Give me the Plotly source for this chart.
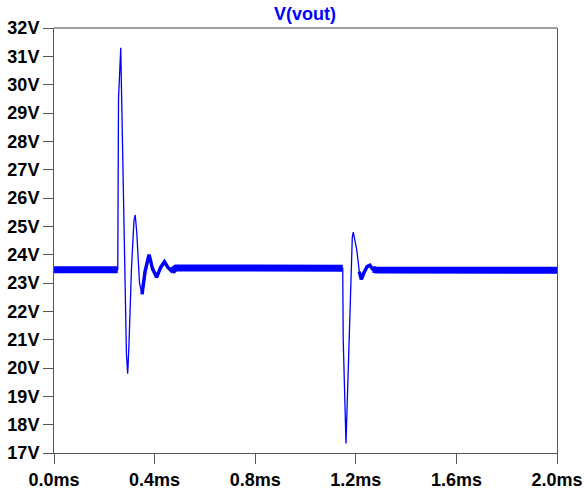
import plotly.graph_objects as go

# Time (ms) and V(vout) (V)
t_ms = [0.0, 0.2535, 0.2565, 0.2640, 0.2655, 0.2680, 0.2760, 0.2810, 0.2880, 0.2930,
        0.2980, 0.3080, 0.3180, 0.3230, 0.3290, 0.3400, 0.3500, 0.3620, 0.3780, 0.3920,
        0.4080, 0.4240, 0.4390, 0.4530, 0.4680, 0.4850, 1.1480, 1.1500, 1.1580, 1.1610,
        1.1650, 1.1700, 1.1770, 1.1810, 1.1860, 1.1900, 1.1940, 1.2040, 1.2140, 1.2220,
        1.2320, 1.2450, 1.2560, 1.2680, 1.2800, 2.0]
v_out = [23.47, 23.47, 29.5, 31.1, 31.3, 30.0, 26.0, 23.0, 20.5, 19.8,
         20.8, 23.5, 25.2, 25.4, 24.8, 23.0, 22.6, 23.4, 24.0, 23.5,
         23.2, 23.55, 23.75, 23.55, 23.42, 23.53, 23.52, 21.0, 17.8, 17.34,
         18.5, 20.05, 22.4, 23.6, 24.6, 24.8, 24.6, 24.16, 23.4, 23.13,
         23.35, 23.58, 23.63, 23.48, 23.46, 23.45]

# Time windows where the switching ripple is fully developed (wide band)
ripple_start = [0.0, 0.4680, 1.2680]
ripple_end = [0.2535, 1.1480, 2.0]
# Settling tails where the ripple shows as a thinner band
tail_start = [0.3500, 1.2140]
tail_end = [0.4850, 1.2800]

x_ticks = [0.0, 0.4, 0.8, 1.2, 1.6, 2.0]
x_labels = ["0.0ms", "0.4ms", "0.8ms", "1.2ms", "1.6ms", "2.0ms"]
y_ticks = list(range(17, 33))
y_labels = [f"{v}V" for v in y_ticks]

BLUE = "#0000ff"


def windowed(starts, ends):
    xs, ys = [], []
    for a, b in zip(starts, ends):
        for t, v in zip(t_ms, v_out):
            if a <= t <= b:
                xs.append(t)
                ys.append(v)
        xs.append(None)
        ys.append(None)
    return xs, ys


band_t, band_v = windowed(ripple_start, ripple_end)
tail_t, tail_v = windowed(tail_start, tail_end)

fig = go.Figure()
fig.add_trace(go.Scatter(x=band_t, y=band_v, mode="lines",
                         line=dict(color=BLUE, width=7), hoverinfo="skip",
                         connectgaps=False, showlegend=False))
fig.add_trace(go.Scatter(x=tail_t, y=tail_v, mode="lines",
                         line=dict(color=BLUE, width=3.5), hoverinfo="skip",
                         connectgaps=False, showlegend=False))
fig.add_trace(go.Scatter(x=t_ms, y=v_out, mode="lines",
                         line=dict(color=BLUE, width=1.3), showlegend=False))

tick_font = dict(family="Liberation Sans, Arial, sans-serif", size=18, color="#000000", weight="bold")

fig.update_layout(
    width=584, height=489,
    margin=dict(l=54, r=27, t=28, b=36, autoexpand=False),
    paper_bgcolor="white", plot_bgcolor="white",
    title=dict(text="V(vout)", x=0.499, xref="paper", y=1 - 14 / 489, yref="container",
               xanchor="center", yanchor="middle",
               font=dict(family="Liberation Sans, Arial, sans-serif", size=18,
                         color=BLUE, weight="bold")),
    xaxis=dict(range=[0, 2.0], tickvals=x_ticks, ticktext=x_labels, tickfont=tick_font,
               ticks="outside", ticklen=10, tickcolor="#555555", showline=True,
               linecolor="#555555", linewidth=1, showgrid=False, zeroline=False,
               mirror=False),
    yaxis=dict(range=[17, 32], tickvals=y_ticks, ticktext=y_labels, tickfont=tick_font,
               ticks="outside", ticklen=10, tickcolor="#555555", showline=True,
               linecolor="#555555", linewidth=1, showgrid=False, zeroline=False,
               mirror=True),
    shapes=[dict(type="line", xref="paper", yref="paper", x0=0, x1=1, y0=1, y1=1,
                 line=dict(color="#a0a0a0", width=2))],
)

fig.write_html("out.html", config={"displayModeBar": False},
               post_script="document.body.style.margin='0';document.body.style.overflow='hidden';")
